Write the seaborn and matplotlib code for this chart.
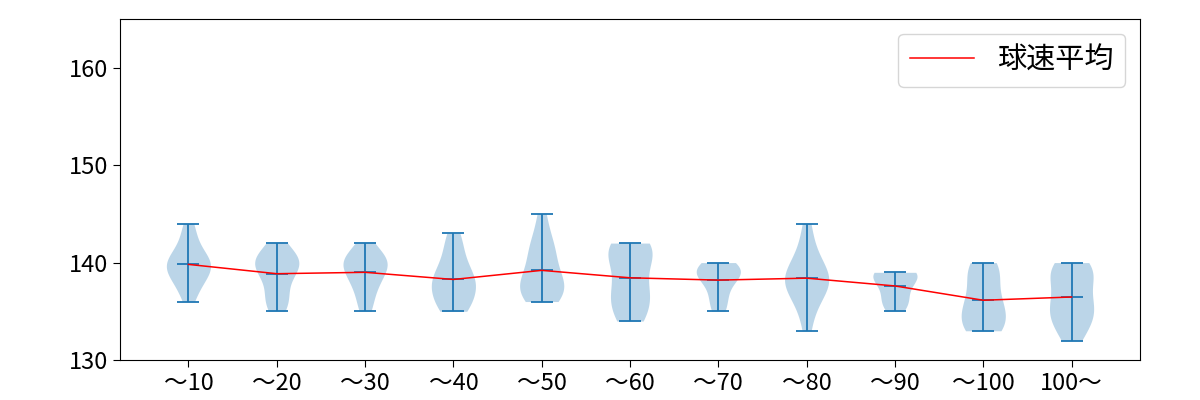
import numpy as np
import pandas as pd
import matplotlib
matplotlib.use("Agg")
import matplotlib.pyplot as plt
import seaborn as sns

categories = ["〜10", "〜20", "〜30", "〜40", "〜50", "〜60", "〜70", "〜80", "〜90", "〜100", "100〜"]

speeds_10 = [136, 137, 138, 138, 139, 139, 139, 140, 140, 140, 140, 141, 141, 142, 143, 144]
speeds_20 = [135, 136, 136, 137, 138, 139, 139, 140, 140, 140, 140, 141, 141, 142]
speeds_30 = [135, 136, 137, 138, 138, 139, 139, 140, 140, 140, 140, 141, 141, 142]
speeds_40 = [135, 135, 136, 136, 137, 137, 138, 138, 138, 139, 139, 140, 141, 142, 143]
speeds_50 = [136, 136, 137, 137, 137, 138, 138, 138, 139, 140, 141, 141, 142, 143, 145]
speeds_60 = [134, 134, 135, 136, 136, 137, 137, 138, 139, 140, 141, 141, 141, 142, 142, 142]
speeds_70 = [135, 136, 137, 138, 139, 139, 139, 139, 140, 140]
speeds_80 = [133, 135, 136, 137, 137, 138, 138, 138, 139, 139, 139, 140, 141, 142, 144]
speeds_90 = [135, 136, 136, 137, 138, 138, 139, 139, 139, 139]
speeds_100 = [133, 133, 133, 134, 134, 135, 135, 136, 136, 137, 138, 139, 139, 140, 140]
speeds_100p = [132, 133, 134, 134, 135, 135, 136, 136, 137, 138, 139, 139, 139, 140, 140]

groups = [speeds_10, speeds_20, speeds_30, speeds_40, speeds_50, speeds_60,
          speeds_70, speeds_80, speeds_90, speeds_100, speeds_100p]

legend_label = "球速平均"
y_ticks = [130, 140, 150, 160]

positions = np.arange(1, len(categories) + 1)
df = pd.DataFrame({
    "pos": np.concatenate([[p] * len(g) for p, g in zip(positions, groups)]),
    "speed": np.concatenate(groups).astype(float),
})
mins = np.array([min(g) for g in groups])
maxs = np.array([max(g) for g in groups])
means = np.array([np.mean(g) for g in groups])

plt.rcParams["font.family"] = ["Noto Sans CJK JP", "DejaVu Sans"]

fig, ax = plt.subplots(figsize=(12, 4), dpi=100)
fig.subplots_adjust(left=0.1, right=0.95, bottom=0.1, top=0.9525)

sns.violinplot(data=df, x="pos", y="speed", native_scale=True, width=0.5,
               cut=0, inner=None, density_norm="width", bw_method="scott",
               color="#1f77b4", saturation=1, alpha=0.3, linewidth=0, ax=ax)

c = "#1f77b4"
lw = 1.3
ax.vlines(positions, mins, maxs, color=c, lw=lw)
ax.hlines(maxs, positions - 0.125, positions + 0.125, color=c, lw=lw)
ax.hlines(mins, positions - 0.125, positions + 0.125, color=c, lw=lw)
ax.hlines(means, positions - 0.125, positions + 0.125, color=c, lw=lw)

sns.lineplot(x=positions, y=means, color="red", linewidth=1.1, label=legend_label, ax=ax)

ax.set_xticks(positions)
ax.set_xticklabels(categories)
ax.set_yticks(y_ticks)
ax.set_xlim(positions[0] - 0.775, positions[-1] + 0.775)
ax.set_ylim(130, 165)
ax.set_xlabel("")
ax.set_ylabel("")
ax.tick_params(labelsize=17, length=5)
ax.legend(loc="upper right", fontsize=21, handlelength=2.2)

fig.savefig("out.png", dpi=100)
